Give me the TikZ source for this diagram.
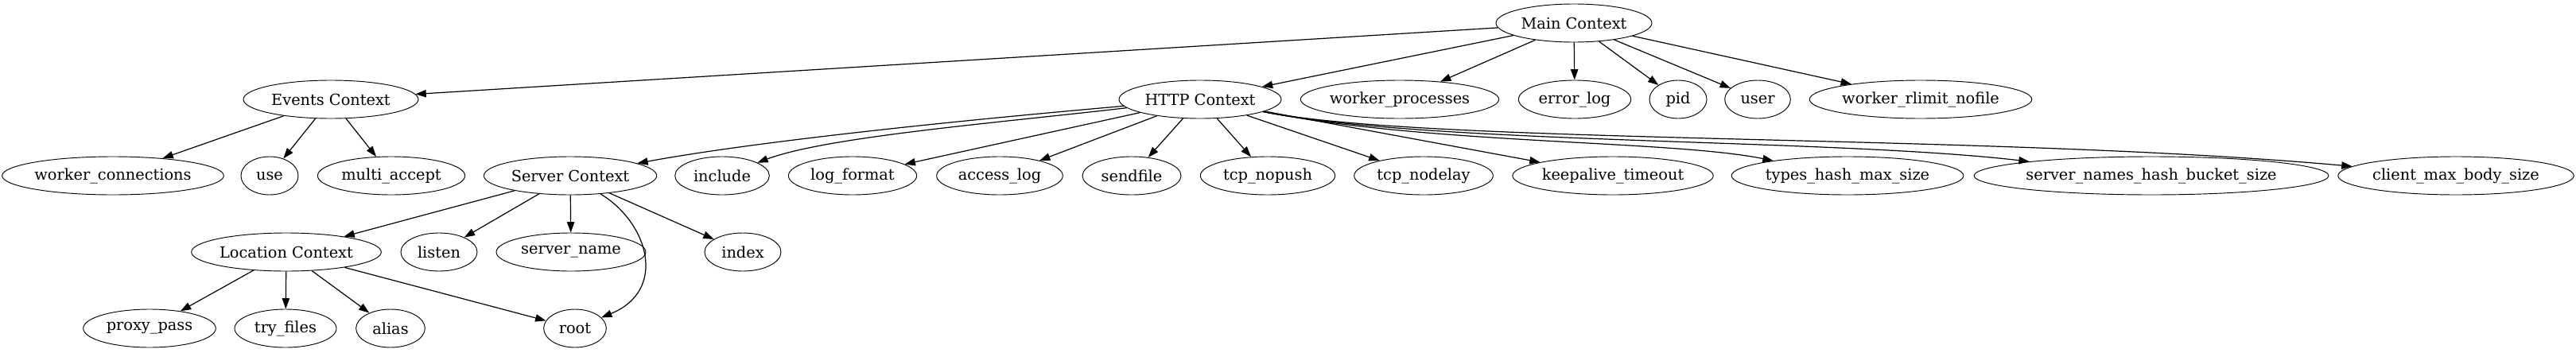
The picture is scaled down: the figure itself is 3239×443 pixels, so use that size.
\documentclass[tikz,border=0pt]{standalone}
\usepackage{fontspec}
\setmainfont{DejaVu Serif}
\usetikzlibrary{arrows.meta,shapes.geometric}
\begin{document}
\begin{tikzpicture}[x=0.75pt,y=-0.75pt,
  nd/.style={draw, ellipse, inner sep=0pt, minimum height=36pt, line width=0.7pt, font=\fontsize{14.5}{16}\selectfont},
  ed/.style={-{Triangle[length=10pt,width=7pt]}, line width=0.9pt}]
\useasboundingbox (0,0) rectangle (3239,443);
% row 0
\node[nd, minimum width=147pt] (main) at (1979,29) {Main Context};
% row 1
\node[nd, minimum width=165pt] (events) at (416,125) {Events Context};
\node[nd, minimum width=153pt] (http) at (1509,125) {HTTP Context};
\node[nd, minimum width=187pt] (wproc) at (1760,125) {worker\_processes};
\node[nd, minimum width=106pt] (errlog) at (1980,125) {error\_log};
\node[nd, minimum width=54pt] (pid) at (2110,125) {pid};
\node[nd, minimum width=62pt] (user) at (2210,125) {user};
\node[nd, minimum width=207pt] (wrlimit) at (2415,125) {worker\_rlimit\_nofile};
% row 2
\node[nd, minimum width=205pt] (wconn) at (142,221) {worker\_connections};
\node[nd, minimum width=54pt] (use) at (339,221) {use};
\node[nd, minimum width=139pt] (multi) at (492,221) {multi\_accept};
\node[nd, minimum width=163pt] (server) at (717,221) {Server Context};
\node[nd, minimum width=89pt] (include) at (908,221) {include};
\node[nd, minimum width=121pt] (logfmt) at (1072,221) {log\_format};
\node[nd, minimum width=119pt] (access) at (1257,221) {access\_log};
\node[nd, minimum width=93pt] (sendfile) at (1423,221) {sendfile};
\node[nd, minimum width=127pt] (nopush) at (1594,221) {tcp\_nopush};
\node[nd, minimum width=131pt] (nodelay) at (1790,221) {tcp\_nodelay};
\node[nd, minimum width=189pt] (keepalive) at (2028,221) {keepalive\_timeout};
\node[nd, minimum width=217pt] (types) at (2323,221) {types\_hash\_max\_size};
\node[nd, minimum width=319pt] (snhbs) at (2705,221) {server\_names\_hash\_bucket\_size};
\node[nd, minimum width=219pt] (cmbs) at (3088,221) {client\_max\_body\_size};
% row 3
\node[nd, minimum width=179pt] (location) at (360,317) {Location Context};
\node[nd, minimum width=72pt] (listen) at (552,317) {listen};
\node[nd, minimum width=141pt] (sname) at (718,317) {server\_name};
\node[nd, minimum width=72pt] (index) at (934,317) {index};
% row 4
\node[nd, minimum width=125pt] (proxy) at (188,413) {proxy\_pass};
\node[nd, minimum width=96pt] (tryfiles) at (359,413) {try\_files};
\node[nd, minimum width=65pt] (alias) at (491,413) {alias};
\node[nd, minimum width=59pt] (root) at (723,413) {root};
% edges from main
\draw[ed] (main) -- (events);
\draw[ed] (main) -- (http);
\draw[ed] (main) -- (wproc);
\draw[ed] (main) -- (errlog);
\draw[ed] (main) -- (pid);
\draw[ed] (main) -- (user);
\draw[ed] (main) -- (wrlimit);
% events
\draw[ed] (events) -- (wconn);
\draw[ed] (events) -- (use);
\draw[ed] (events) -- (multi);
% http
\draw[ed] (http) .. controls (1200,152) and (950,178) .. (server);
\draw[ed] (http) .. controls (1250,155) and (1040,172) .. (include);
\draw[ed] (http) -- (logfmt);
\draw[ed] (http) -- (access);
\draw[ed] (http) -- (sendfile);
\draw[ed] (http) -- (nopush);
\draw[ed] (http) -- (nodelay);
\draw[ed] (http) -- (keepalive);
\draw[ed] (http) .. controls (1800,182) and (2100,176) .. (types);
\draw[ed] (http) .. controls (1800,182) and (2300,174) .. (snhbs);
\draw[ed] (http) .. controls (1800,182) and (2500,168) .. (cmbs);
% server
\draw[ed] (server) -- (location);
\draw[ed] (server) -- (listen);
\draw[ed] (server) -- (sname);
\draw[ed] (server) -- (index);
\draw[ed] (server) .. controls (815,280) and (840,365) .. (root);
% location
\draw[ed] (location) -- (proxy);
\draw[ed] (location) -- (tryfiles);
\draw[ed] (location) -- (alias);
\draw[ed] (location) -- (root);
\end{tikzpicture}
\end{document}
